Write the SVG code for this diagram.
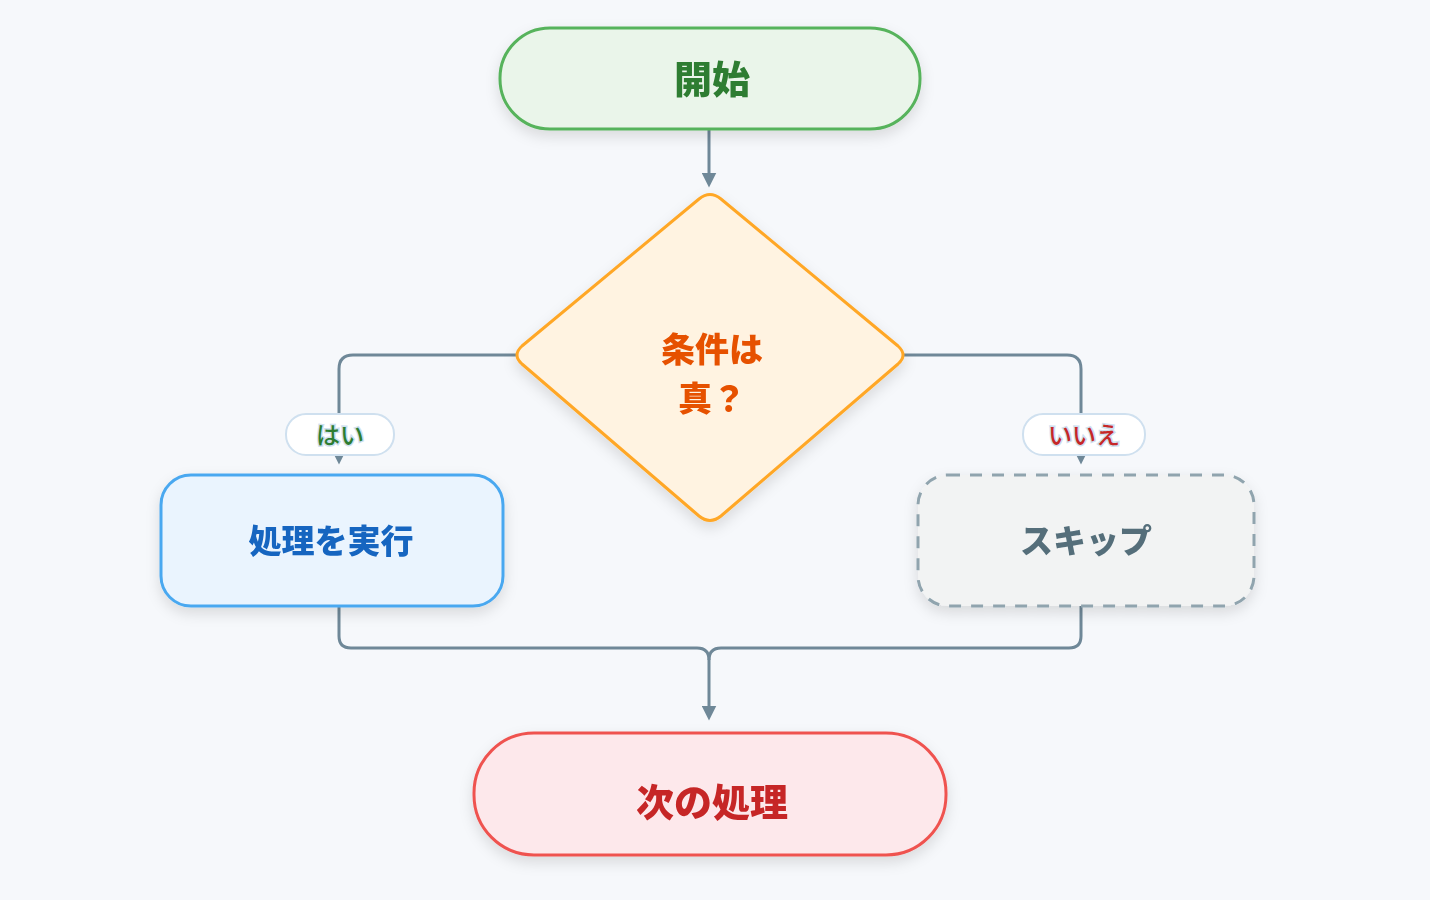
<svg xmlns="http://www.w3.org/2000/svg" width="1430" height="900" viewBox="0 0 1430 900">
<defs>
<filter id="sh" x="-20%" y="-20%" width="140%" height="150%"><feDropShadow dx="0" dy="6" stdDeviation="7" flood-color="#000" flood-opacity="0.12"/></filter>
<marker id="ah" viewBox="0 0 10 10" refX="5" refY="5" markerWidth="5" markerHeight="5" orient="auto"><path d="M0,0 L10,5 L0,10 z" fill="#6f8898"/></marker>
</defs>
<style>
.t{font-family:"Noto Sans CJK JP",sans-serif;font-weight:900;text-anchor:middle;dominant-baseline:central}
.c{fill:none;stroke:#6f8898;stroke-width:3;stroke-linejoin:round}
.lbl{font-family:"Noto Sans CJK JP",sans-serif;font-weight:500;font-size:24px;text-anchor:middle;dominant-baseline:central;stroke:#cfe0ef;stroke-width:3;paint-order:stroke}
</style>
<rect width="1430" height="900" fill="#f6f8fb"/>
<g id="connectors">
<path class="c" d="M709,129 V180" marker-end="url(#ah)"/>
<path class="c" d="M516,355 H353 Q339,355 339,369 V457" marker-end="url(#ah)"/>
<path class="c" d="M904,355 H1067 Q1081,355 1081,369 V457" marker-end="url(#ah)"/>
<path class="c" d="M339,606 V636 Q339,648 351,648 H697 Q709,648 709,660"/>
<path class="c" d="M1081,606 V636 Q1081,648 1069,648 H721 Q709,648 709,660 V713" marker-end="url(#ah)"/>
</g>
<g id="start" filter="url(#sh)">
<rect x="500" y="28" width="420" height="101" rx="50" fill="#eaf5ea" stroke="#57b35b" stroke-width="3"/>
<text class="t" x="712" y="76" font-size="38" fill="#2e7d32">開始</text>
</g>
<g id="decision" filter="url(#sh)">
<path d="M699,199 Q710,190 721,199 L898,346 Q908,355 898,364 L721,516 Q710,525 699,516 L522,364 Q512,355 522,346 Z" fill="#fff3e1" stroke="#ffa726" stroke-width="3"/>
<text class="t" x="712" y="347" font-size="34" fill="#e65100">条件は</text>
<text class="t" x="712" y="396" font-size="34" fill="#e65100">真？</text>
</g>
<g id="label-yes">
<rect x="286" y="414" width="108" height="41" rx="20" fill="#fff" stroke="#cfe0ef" stroke-width="2"/>
<text class="lbl" x="340" y="433" fill="#2e7d32">はい</text>
</g>
<g id="label-no">
<rect x="1023" y="414" width="122" height="41" rx="20" fill="#fff" stroke="#cfe0ef" stroke-width="2"/>
<text class="lbl" x="1084" y="433" fill="#c62828">いいえ</text>
</g>
<g id="process" filter="url(#sh)">
<rect x="161" y="475" width="342" height="131" rx="30" fill="#eaf4fe" stroke="#4aa8f0" stroke-width="3"/>
<text class="t" x="331" y="539" font-size="33" fill="#1565c0">処理を実行</text>
</g>
<g id="skip" filter="url(#sh)">
<rect x="918" y="475" width="336" height="131" rx="30" fill="#f2f3f3" stroke="#90a4ae" stroke-width="3" stroke-dasharray="12 10"/>
<text class="t" x="1086" y="539" font-size="33" fill="#546e7a">スキップ</text>
</g>
<g id="end" filter="url(#sh)">
<rect x="474" y="733" width="472" height="122" rx="60" fill="#fde8eb" stroke="#ef5350" stroke-width="3"/>
<text class="t" x="712" y="799" font-size="38" fill="#c62828">次の処理</text>
</g>
</svg>
